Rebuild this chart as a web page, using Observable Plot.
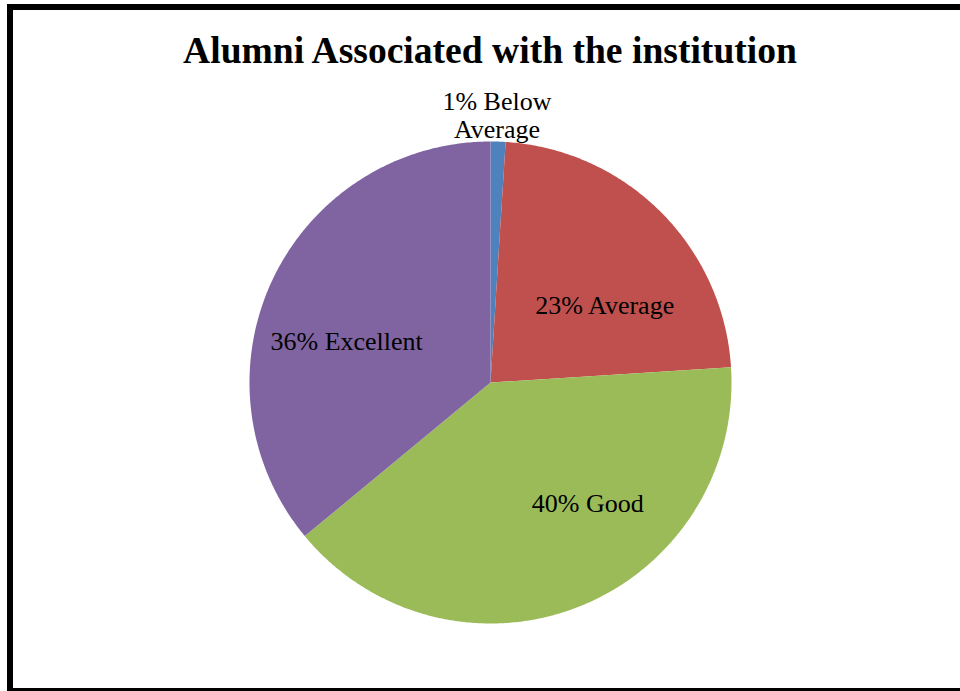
<!DOCTYPE html>
<html>
<head>
<meta charset="utf-8">
<script src="https://cdn.jsdelivr.net/npm/d3@7"></script>
<script src="https://cdn.jsdelivr.net/npm/@observablehq/plot@0.6"></script>
<style>
  html, body { margin: 0; padding: 0; background: #fff; width: 960px; height: 691px; overflow: hidden; position: relative; }
  #frame { position: absolute; left: 7px; top: 4px; width: 1000px; height: 690px; box-sizing: border-box; border: 6px solid #000; pointer-events: none; }
  #title { height: 80px; box-sizing: border-box; padding-top: 32px; padding-left: 20px; text-align: center;
           font: bold 37.6px "Liberation Serif", "Times New Roman", serif; line-height: 1; color: #000; white-space: nowrap; }
  #chart { display: block; }
</style>
</head>
<body>
<div id="title">Alumni Associated with the institution</div>
<div id="chart"></div>
<div id="frame"></div>
<script>
// ---- data ----
const categories = ["Below Average", "Average", "Good", "Excellent"];
const percents   = [1, 23, 40, 36];
const sliceColors = ["#4F81BD", "#C0504D", "#9BBB59", "#8064A2"];

const data = categories.map((c, i) => ({name: c, value: percents[i]}));
const arcs = d3.pie().sort(null).value(d => d.value)(data);

// polygon outline for each slice (unit circle, angle clockwise from 12 o'clock)
const outline = [];
for (const a of arcs) {
  const n = Math.max(2, Math.ceil((a.endAngle - a.startAngle) / (Math.PI / 360)));
  outline.push({name: a.data.name, x: 0, y: 0});
  for (let i = 0; i <= n; i++) {
    const t = a.startAngle + (a.endAngle - a.startAngle) * i / n;
    outline.push({name: a.data.name, x: Math.sin(t), y: Math.cos(t)});
  }
  outline.push({name: a.data.name, x: 0, y: 0});
}

// label anchor on slice bisector
function labelPoint(a) {
  const m = (a.startAngle + a.endAngle) / 2;
  const k = a.data.value < 5 ? 1.12 : 0.6;
  return {name: a.data.name, text: `${a.data.value}% ${a.data.name}`, x: k * Math.sin(m), y: k * Math.cos(m), small: a.data.value < 5};
}
const labels = arcs.map(labelPoint);
const nudge = {"Below Average": [-2, 2], "Average": [12, 25], "Good": [44, -14], "Excellent": [-13, 20]};

const textMarks = labels.map(l => Plot.text([l], {
  x: "x", y: "y", text: "text",
  dx: nudge[l.name][0], dy: nudge[l.name][1],
  fontSize: 26, fontFamily: "Liberation Serif, Times New Roman, serif",
  fill: "#000", lineWidth: l.small ? 5 : 20, lineHeight: 1.08, textAnchor: "middle"
}));

const plot = Plot.plot({
  width: 960,
  height: 611,
  margin: 0,
  x: {domain: [-1, 1], range: [249, 731], axis: null},
  y: {domain: [-1, 1], range: [543, 61], axis: null},
  color: {domain: categories, range: sliceColors},
  marks: [
    Plot.line(outline, {x: "x", y: "y", z: "name", fill: "name", stroke: null, curve: "linear"}),
    ...textMarks
  ]
});
document.getElementById("chart").appendChild(plot);
</script>
</body>
</html>
